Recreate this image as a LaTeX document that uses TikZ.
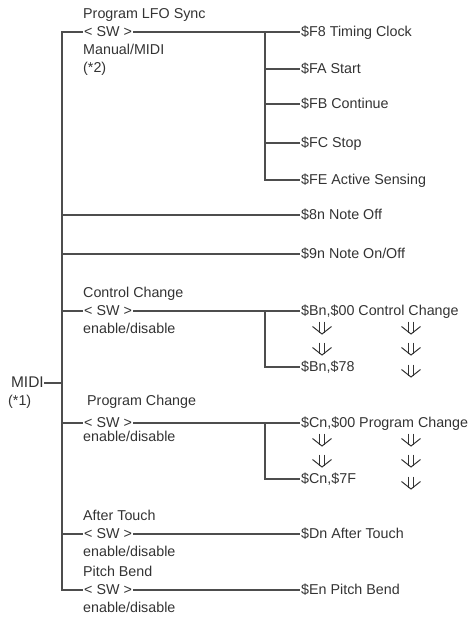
\documentclass[tikz,border=0pt]{standalone}
\usepackage{fontspec}
\setmainfont{Liberation Sans}
\usepackage{xcolor}
\usepackage{tikz}
\usetikzlibrary{positioning}
\definecolor{inkgray}{HTML}{333333}
\definecolor{wiregray}{HTML}{4D4D4D}
\tikzset{
  msg/.style={anchor=west, inner sep=1pt, text height=11pt, text depth=3pt, text=inkgray},
  note/.style={anchor=base west, inner sep=0pt, text=inkgray},
  wire/.style={draw=wiregray, line width=1.2pt},
  dnarrow/.pic={
    \draw[inkgray, line width=1pt] (-2.2,-6.5) -- (-2.2,5) (2.2,-6.5) -- (2.2,5);
    \draw[inkgray, line width=1pt] (-9.5,-1.5) -- (0,6) -- (9.5,-1.5);
  }
}
\begin{document}
\begin{tikzpicture}[x=1pt, y=-1pt, font=\fontsize{14.3}{18}\selectfont]
\useasboundingbox (0,0) rectangle (471,619);

% root and trunk
\node[msg, anchor=east, inner sep=0pt, font=\fontsize{15.5}{18}\selectfont] (midi) at (44,383) {MIDI};
\node[note] (midiref) at (8,405) {(*1)};
\coordinate (top) at (62,32);
\coordinate (bot) at (62,590);

% switches
\node[msg] (swlfo) at (83,32) {< SW >};
\node[msg] (swcc) at (83,311) {< SW >};
\node[msg] (swpc) at (83,423) {< SW >};
\node[msg] (swat) at (83,534) {< SW >};
\node[msg] (swpb) at (83,590) {< SW >};

\node[note] (lfolbl) at (83,18) {Program LFO Sync};
\node[note] (lfomode) at (83,54) {Manual/MIDI};
\node[note] (lforef) at (83,72) {(*2)};
\node[note] (cclbl) at (83,297) {Control Change};
\node[note] (ccmode) at (83,333) {enable/disable};
\node[note] (pclbl) at (87,405) {Program Change};
\node[note] (pcmode) at (83,441) {enable/disable};
\node[note] (atlbl) at (83,520) {After Touch};
\node[note] (atmode) at (83,556) {enable/disable};
\node[note] (pblbl) at (83,576) {Pitch Bend};
\node[note] (pbmode) at (83,612) {enable/disable};

% messages
\node[msg] (f8) at (300,32) {\$F8 Timing Clock};
\node[msg] (fa) at (300,69) {\$FA Start};
\node[msg] (fb) at (300,104) {\$FB Continue};
\node[msg] (fc) at (300,143) {\$FC Stop};
\node[msg] (fe) at (300,180) {\$FE Active Sensing};
\node[msg] (noff) at (300,215) {\$8n Note Off};
\node[msg] (non) at (300,254) {\$9n Note On/Off};
\node[msg] (bnfirst) at (300,311) {\$Bn,\$00 Control Change};
\node[msg] (bnlast) at (300,367) {\$Bn,\$78};
\node[msg] (cnfirst) at (300,423) {\$Cn,\$00 Program Change};
\node[msg] (cnlast) at (300,479) {\$Cn,\$7F};
\node[msg] (dn) at (300,534) {\$Dn After Touch};
\node[msg] (en) at (300,590) {\$En Pitch Bend};

\coordinate (fork1) at (265,32);
\coordinate (fork2) at (265,311);
\coordinate (fork3) at (265,423);

% wires
\draw[wire] (swlfo.west) -- (top) -- (bot) -- (swpb.west);
\draw[wire] (midi.east) -- (midi.east -| top);
\foreach \n in {swcc,swpc,swat} \draw[wire] (top |- \n.west) -- (\n.west);
\foreach \n in {noff,non} \draw[wire] (top |- \n.west) -- (\n.west);
\draw[wire] (swlfo.east) -- (f8.west);
\draw[wire] (swcc.east) -- (bnfirst.west);
\draw[wire] (swpc.east) -- (cnfirst.west);
\draw[wire] (swat.east) -- (dn.west);
\draw[wire] (swpb.east) -- (en.west);
\draw[wire] (fork1) |- (fe.west);
\foreach \n in {fa,fb,fc} \draw[wire] (fork1 |- \n.west) -- (\n.west);
\draw[wire] (fork2) |- (bnlast.west);
\draw[wire] (fork3) |- (cnlast.west);

% ranges
\foreach \b in {311,423} {
  \foreach \d in {17,38} {
    \pic at (322,\b+\d) {dnarrow};
    \pic at (411,\b+\d) {dnarrow};
  }
  \pic at (411,\b+60) {dnarrow};
}
\end{tikzpicture}
\end{document}
